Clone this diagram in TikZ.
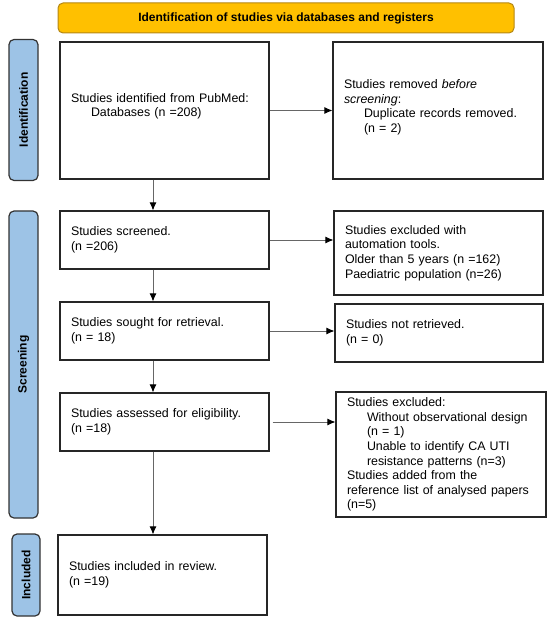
\documentclass[tikz,border=0pt]{standalone}
\usepackage{fontspec}
\setmainfont{Liberation Sans}
\usetikzlibrary{arrows.meta}
\definecolor{bannergold}{RGB}{255,192,0}
\definecolor{bannerline}{RGB}{180,135,20}
\definecolor{phaseblue}{RGB}{157,195,230}
\begin{document}
\begin{tikzpicture}[x=1pt,y=-1pt,
    flowbox/.style={draw=black!85,line width=1.1pt,rectangle,align=left,inner xsep=11pt,font=\fontsize{12.4}{14.6}\selectfont},
    phase/.style={draw=black!80,line width=1.2pt,fill=phaseblue,rounded corners=5pt,rotate=90,inner sep=0pt,font=\bfseries\fontsize{12}{14}\selectfont},
    link/.style={draw=black!60,line width=0.9pt,-{Latex[length=8pt,width=7pt,color=black]}}]
                \useasboundingbox (0,0) rectangle (550,620);
                % Draw the banner on top
                \node[draw=bannerline,fill=bannergold,rounded corners=5pt,line width=1pt,minimum width=456pt,minimum height=30pt,font=\bfseries\fontsize{12}{14}\selectfont] (banner) at (286,18) {Identification of studies via databases and registers};
                % Draw the phase labels on the left
                \node[phase,minimum width=141pt,minimum height=29pt] (ident) at (23.5,110) {Identification};
                \node[phase,minimum width=307pt,minimum height=29pt] (screen) at (23.5,364.5) {Screening};
                \node[phase,minimum width=82pt,minimum height=28pt] (incl) at (26,575) {Included};
                % Draw the main boxes
                \node[flowbox,minimum width=209pt,minimum height=137pt,text width=187pt] (identified) at (164.5,110.5) {Studies identified from PubMed:\\\hspace*{20pt}Databases (n =208)\\[-4pt]\mbox{}};
                \node[flowbox,minimum width=209pt,minimum height=58pt,text width=187pt] (screened) at (164.5,240) {Studies screened.\\(n =206)};
                \node[flowbox,minimum width=209pt,minimum height=58pt,text width=187pt] (sought) at (164.5,331) {Studies sought for retrieval.\\(n = 18)};
                \node[flowbox,minimum width=209pt,minimum height=58pt,text width=187pt] (assessed) at (164.5,422) {Studies assessed for eligibility.\\(n =18)};
                \node[flowbox,minimum width=209pt,minimum height=80pt,text width=187pt] (included) at (162.5,575) {Studies included in review.\\(n =19)};
                % Draw the boxes on the right
                \node[flowbox,minimum width=210pt,minimum height=137pt,text width=188pt] (removed) at (438,110.5) {Studies removed \emph{before}\\\emph{screening}:\\\hspace*{20pt}Duplicate records removed.\\\hspace*{20pt}(n = 2)\\[-6pt]\mbox{}};
                \node[flowbox,minimum width=209pt,minimum height=84pt,text width=187pt] (automated) at (438.5,253) {Studies excluded with\\automation tools.\\Older than 5 years (n =162)\\Paediatric population (n=26)};
                \node[flowbox,minimum width=208pt,minimum height=58pt,text width=186pt] (notretrieved) at (439,333) {Studies not retrieved.\\(n = 0)};
                \node[flowbox,minimum width=210pt,minimum height=125pt,text width=188pt] (excluded) at (441,454.5) {Studies excluded:\\\hspace*{20pt}Without observational design\\\hspace*{20pt}(n = 1)\\\hspace*{20pt}Unable to identify CA UTI\\\hspace*{20pt}resistance patterns (n=3)\\Studies added from the\\reference list of analysed papers\\(n=5)};
                % Draw the arrows
                \draw[link] (identified.east) -- (removed.west);
                \draw[link] ([xshift=-11.5pt]identified.south) -- ([xshift=-11.5pt]screened.north);
                \draw[link] (screened.east) -- (screened.east -| automated.west);
                \draw[link] ([xshift=-11.5pt]screened.south) -- ([xshift=-11.5pt]sought.north);
                \draw[link] (sought.east) -- (sought.east -| notretrieved.west);
                \draw[link] ([xshift=-11.5pt]sought.south) -- ([xshift=-11.5pt]assessed.north);
                \draw[link] ([xshift=3pt]assessed.east) -- (assessed.east -| excluded.west);
                \draw[link] ([xshift=-11.5pt]assessed.south) -- ([xshift=-9.5pt]included.north);
            \end{tikzpicture}
\end{document}
